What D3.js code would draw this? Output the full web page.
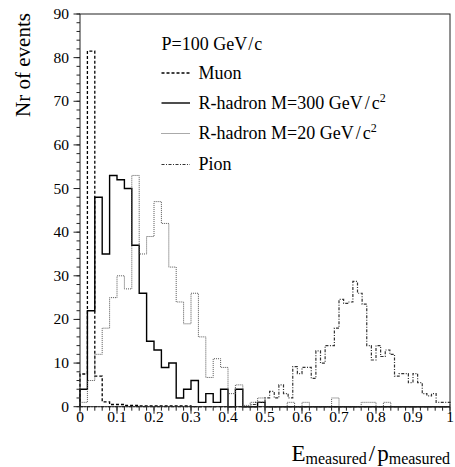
<!DOCTYPE html>
<html>
<head>
<meta charset="utf-8">
<script src="https://cdn.jsdelivr.net/npm/d3@7"></script>
<style>
body { margin: 0; background: #fff; }
text { font-family: "Liberation Serif", "DejaVu Serif", serif; fill: #000; }
</style>
</head>
<body>
<div id="chart"></div>
<script>
// bin contents (50 bins of 0.02, pion 80 bins of 0.0125)
var muon = [7.5, 81.5, 7, 1.1, 0.5, 0.5, 0.3, 0.3, 0.2, 0.2, 0.2, 0.2, 0.2, 0.2, 0.2, 0,
  0, 0, 0, 0, 0, 0, 0, 0, 0, 0, 0, 0, 0, 0, 0, 0, 0, 0, 0, 0, 0, 0, 0, 0,
  0, 0, 0, 0, 0, 0, 0, 0, 0, 0];
var rhadron300 = [4, 22, 48, 35, 53, 52, 50, 37, 26, 15, 13, 9, 10, 2, 4, 6, 1, 3, 1, 4,
  0, 4, 0, 0, 1, 0, 0, 0, 0, 0, 0, 0, 0, 0, 0, 0, 0, 0, 0, 0,
  0, 0, 0, 0, 0, 0, 0, 0, 0, 0];
var rhadron20 = [1, 6, 12, 18, 25, 30, 27, 53, 35, 39, 47, 42, 32, 24, 19, 26, 16, 6.7, 11, 9,
  3, 5, 0.3, 1, 2, 0, 0, 0, 1, 0, 1, 0, 0, 0, 2, 0, 0, 0, 1, 1,
  0, 1, 0, 0, 0, 0, 0, 0, 0, 0];
var pion = [0, 0, 0, 0, 0, 0, 0, 0, 0, 0, 0, 0, 0, 0, 0, 0, 0, 0, 0, 0,
  0, 0, 0, 0, 0, 0, 0, 0, 0, 0, 0, 0, 0, 0, 0, 0, 0, 0.5, 1, 1,
  2, 3.5, 2, 5, 3, 2, 9.2, 7.6, 9, 9, 6.5, 12.8, 10, 14, 14, 18, 24.6, 23.7, 24, 28.7,
  26, 23.5, 14, 10.7, 14, 11.5, 13, 12, 7, 7.6, 7.6, 5.5, 7.6, 5.5, 3, 2.5, 3, 1, 1, 1];
var xTicks = [0, 0.1, 0.2, 0.3, 0.4, 0.5, 0.6, 0.7, 0.8, 0.9, 1];
var xTickLabels = ["0", "0.1", "0.2", "0.3", "0.4", "0.5", "0.6", "0.7", "0.8", "0.9", "1"];
var yTicks = [0, 10, 20, 30, 40, 50, 60, 70, 80, 90];
var legendLabels = ["Muon", "R-hadron M=300", "R-hadron M=20", "Pion"];

var W = 455, H = 467;
var padL = 80, padR = 450, padT = 14, padB = 406.7;

var svg = d3.select("#chart").append("svg")
  .attr("width", W)
  .attr("height", H);

var x = d3.scaleLinear().domain([0, 1]).range([padL, padR]);
var y = d3.scaleLinear().domain([0, 90]).range([padB, padT]);

function histPath(values) {
  var w = 1 / values.length;
  var pts = [[0, 0]];
  values.forEach(function(v, i) {
    pts.push([i * w, v]);
    pts.push([(i + 1) * w, v]);
  });
  pts.push([1, 0]);
  return d3.line().x(function(d) { return x(d[0]); }).y(function(d) { return y(d[1]); })(pts);
}

var styles = [
  { data: muon, stroke: "#000", width: 1.3, dash: "3,2" },
  { data: rhadron300, stroke: "#000", width: 1.4, dash: null },
  { data: rhadron20, stroke: "#555", width: 1, dash: "1,1" },
  { data: pion, stroke: "#333", width: 1.2, dash: "3,1.5,1,1.5" }
];

var plot = svg.append("g");
styles.forEach(function(s) {
  plot.append("path")
    .attr("d", histPath(s.data))
    .attr("fill", "none")
    .attr("stroke", s.stroke)
    .attr("stroke-width", s.width)
    .attr("stroke-dasharray", s.dash);
});

// frame
svg.append("rect")
  .attr("x", padL).attr("y", padT)
  .attr("width", padR - padL).attr("height", padB - padT)
  .attr("fill", "none").attr("stroke", "#222").attr("stroke-width", 1);

// x axis ticks
var xMinor = d3.range(0, 1.0001, 0.02);
svg.selectAll(".xminor").data(xMinor).enter().append("line")
  .attr("x1", function(d) { return x(d); }).attr("x2", function(d) { return x(d); })
  .attr("y1", padB).attr("y2", padB + 4)
  .attr("stroke", "#222");
svg.selectAll(".xmajor").data(xTicks).enter().append("line")
  .attr("x1", function(d) { return x(d); }).attr("x2", function(d) { return x(d); })
  .attr("y1", padB).attr("y2", padB + 7)
  .attr("stroke", "#222");
svg.selectAll(".xlab").data(xTicks).enter().append("text")
  .attr("x", function(d) { return x(d); })
  .attr("y", 421.5)
  .attr("text-anchor", "middle")
  .style("font-size", "15.5px")
  .text(function(d, i) { return xTickLabels[i]; });

// y axis ticks
var yMinor = d3.range(0, 90.001, 2);
svg.selectAll(".yminor").data(yMinor).enter().append("line")
  .attr("x1", padL - 3.5).attr("x2", padL)
  .attr("y1", function(d) { return y(d); }).attr("y2", function(d) { return y(d); })
  .attr("stroke", "#222");
svg.selectAll(".ymajor").data(yTicks).enter().append("line")
  .attr("x1", padL - 6.5).attr("x2", padL)
  .attr("y1", function(d) { return y(d); }).attr("y2", function(d) { return y(d); })
  .attr("stroke", "#222");
svg.selectAll(".ylab").data(yTicks).enter().append("text")
  .attr("x", 69)
  .attr("y", function(d) { return y(d) + 5; })
  .attr("text-anchor", "end")
  .style("font-size", "15.5px")
  .text(function(d) { return d; });

// axis titles
svg.append("text")
  .attr("transform", "translate(30,65) rotate(-90)")
  .attr("text-anchor", "middle")
  .style("font-size", "21px")
  .text("Nr of events");

var xt = svg.append("text")
  .attr("x", padR).attr("y", 461)
  .attr("text-anchor", "end")
  .style("font-size", "23px");
xt.append("tspan").text("E");
xt.append("tspan").attr("dy", 2.5).style("font-size", "16px").text("measured");
xt.append("tspan").attr("dy", -2.5).attr("dx", 2).text("/");
xt.append("tspan").attr("dx", 2).text("p");
xt.append("tspan").attr("dy", 2.5).style("font-size", "16px").text("measured");

// legend
function gevc(t, sup, gap) {
  t.append("tspan").text(" GeV");
  t.append("tspan").attr("dx", gap).text("/");
  t.append("tspan").attr("dx", gap).text("c");
  if (sup) t.append("tspan").attr("dy", -7).style("font-size", "12px").text("2");
}

var head = svg.append("text")
  .attr("x", 161.5).attr("y", 50)
  .style("font-size", "18px")
  .text("P=100");
gevc(head, false, 1);

var legY = [78.5, 108.5, 139, 170];
styles.forEach(function(s, i) {
  svg.append("line")
    .attr("x1", 161.5).attr("x2", 190)
    .attr("y1", legY[i] - 5.5).attr("y2", legY[i] - 5.5)
    .attr("stroke", s.stroke)
    .attr("stroke-width", s.width)
    .attr("stroke-dasharray", s.dash);
  var t = svg.append("text")
    .attr("x", 198.5).attr("y", legY[i])
    .style("font-size", "18px")
    .text(legendLabels[i]);
  if (i == 1 || i == 2) gevc(t, true, 2);
});
</script>
</body>
</html>
